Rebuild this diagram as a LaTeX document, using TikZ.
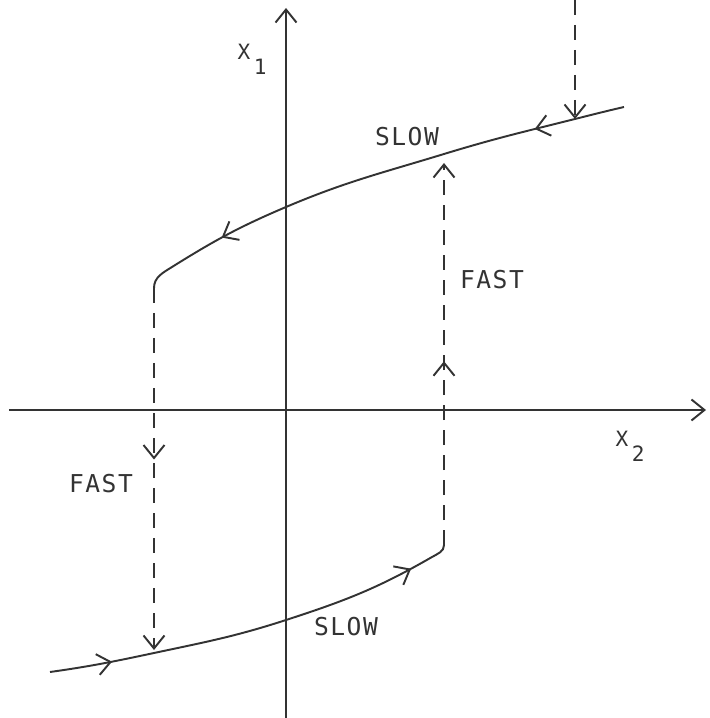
\documentclass[tikz,border=0pt]{standalone}
\usepackage{fontspec}
\newfontfamily\plotfont[LetterSpace=6]{DejaVu Sans Mono}
\usetikzlibrary{arrows.meta,decorations.markings}

\begin{document}
\begin{tikzpicture}[
    >={Straight Barb[length=2.6mm,width=4.2mm]},
    curve/.style={line width=1.1pt, draw=black!80},
    fastline/.style={curve, dash pattern=on 0.3cm off 0.2cm},
    midarrow/.style={postaction={decorate, decoration={markings, mark=at position #1 with {\arrow{>}}}}},
    tag/.style={font=\plotfont\fontsize{14}{14}\selectfont, text=black!80, inner sep=0pt},
    axistag/.style={tag, font=\plotfont\fontsize{12}{12}\selectfont}
  ]
    \useasboundingbox (0,0) rectangle (14.18,-14.36);

    % axes
    \coordinate (origin) at (5.72,-8.2);
    \coordinate (xleft) at (0.18,-8.2);
    \coordinate (xright) at (14.12,-8.2);
    \coordinate (ybottom) at (5.72,-14.36);
    \coordinate (ytop) at (5.72,-0.16);
    \draw[curve,->] (xleft) -- (xright);
    \draw[curve,->] (ybottom) -- (ytop);
    \node[axistag] (xone) at (5.04,-1.18) {X\,\raisebox{-1.3ex}{1}};
    \node[axistag] (xtwo) at (12.6,-8.92) {X\,\raisebox{-1.3ex}{2}};

    % upper slow branch
    \coordinate (uR) at (12.48,-2.14);
    \coordinate (uT) at (11.5,-2.38);
    \coordinate (uF) at (8.88,-3.08);
    \coordinate (uA) at (5.72,-4.14);
    \coordinate (uK) at (3.44,-5.34);
    \coordinate (uC) at (3.08,-5.76);
    \draw[curve, midarrow=0.18, midarrow=0.83] (uR) to[out=193,in=14] (uT) to[out=194,in=17] (uF)
      to[out=197,in=23] (uA) to[out=203,in=32] (uK) to[out=212,in=90] (uC);

    % lower slow branch
    \coordinate (lL) at (1.0,-13.44);
    \coordinate (lD) at (3.08,-13.06);
    \coordinate (lA) at (5.72,-12.4);
    \coordinate (lK) at (8.64,-11.14);
    \coordinate (lC) at (8.88,-10.9);
    \draw[curve, midarrow=0.15, midarrow=0.9] (lL) to[out=8,in=192] (lD) to[out=12,in=198] (lA)
      to[out=18,in=210] (lK) to[out=30,in=270] (lC);

    % fast jumps
    \coordinate (topS) at (11.5,0);
    \draw[fastline,->] (topS) -- (uT);
    \draw[fastline,->,midarrow=0.47,shorten >=0.18cm] (lC) -- (uF);
    \draw[fastline,->,midarrow=0.47,shorten >=0.06cm] (uC) -- (lD);

    \node[tag] (slowtop) at (8.14,-2.74) {SLOW};
    \node[tag] (fasttop) at (9.84,-5.6) {FAST};
    \node[tag] (fastbot) at (2.02,-9.68) {FAST};
    \node[tag] (slowbot) at (6.92,-12.54) {SLOW};
  \end{tikzpicture}
\end{document}
